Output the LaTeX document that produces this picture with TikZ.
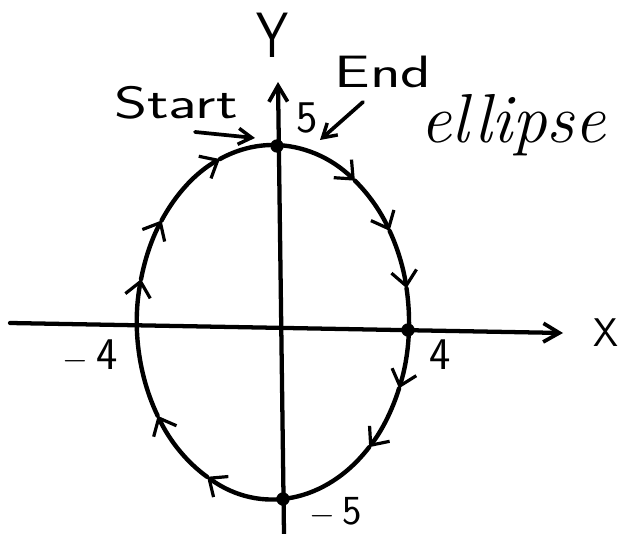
\documentclass[tikz,border=0pt]{standalone}
\usetikzlibrary{arrows.meta,calc}
\begin{document}
\begin{tikzpicture}[x=0.75pt,y=0.75pt,
  curve/.style={line width=3.3pt,line cap=round},
  axis/.style={line width=3.2pt,line cap=round,-{Straight Barb[length=12pt,width=14pt,line width=2.8pt]}},
  flow/.style={curve,-{Straight Barb[length=11pt,width=19pt,line width=2.4pt]}},
  pointer/.style={line width=2.8pt,line cap=round,-{Straight Barb[length=10pt,width=12pt,line width=2.6pt]}},
  dot/.style={circle,fill=black,inner sep=0pt,minimum size=10pt},
  lab/.style={font=\sffamily\fontsize{34}{36}\selectfont,inner sep=0pt,xscale=1.4},
  num/.style={font=\sffamily\fontsize{34}{36}\selectfont,inner sep=0pt}]
\useasboundingbox (0,0) rectangle (623,534);
% axes
\coordinate (xl) at (10,211);
\coordinate (xr) at (563,201);
\coordinate (yb) at (284,0);
\coordinate (yt) at (278,452);
\draw[axis] (xl) -- (xr);
\draw[axis] (yb) -- (yt);
% ellipse
\coordinate (c) at (273,212);
\foreach \a/\b in {90/53,53/31,31/11,11/-22,-22/-45,-45/-119,-119/-148,-148/-194,-194/-215,-215/-247}
  \draw[flow] ($(c)+(\a:136 and 177)$) arc[start angle=\a,end angle=\b,x radius=136,y radius=177];
\draw[curve] ($(c)+(-247:136 and 177)$) arc[start angle=-247,end angle=-270,x radius=136,y radius=177];
% points
\node[dot] (top) at (277,388) {};
\node[dot] (bot) at (283,35) {};
\node[dot] (right) at (408,204) {};
% labels
\node[font=\sffamily\fontsize{48}{50}\selectfont,inner sep=0pt,xscale=0.8] (ylab) at (272,499) {Y};
\node[font=\sffamily\fontsize{30}{32}\selectfont,inner sep=0pt] (xlab) at (606,201) {X};
\node[lab] (start) at (176,431) {Start};
\node[lab] (end) at (383,462) {End};
\node[num] (five) at (307,416) {5};
\node[num] (m4) at (90,178) {$-$\,4};
\node[num] (p4) at (440,179) {4};
\node[num,font=\sffamily\fontsize{31}{33}\selectfont] (m5) at (336,22) {$-$\,5};
\node[font=\itshape\fontsize{52}{54}\selectfont,inner sep=0pt,anchor=base] (ell) at (513,391) {ellipse};
% pointers
\coordinate (s0) at (195,402);
\coordinate (s1) at (255,396);
\coordinate (e0) at (363,432);
\coordinate (e1) at (320,394);
\draw[pointer] (s0) -- (s1);
\draw[pointer] (e0) -- (e1);
\end{tikzpicture}
\end{document}
